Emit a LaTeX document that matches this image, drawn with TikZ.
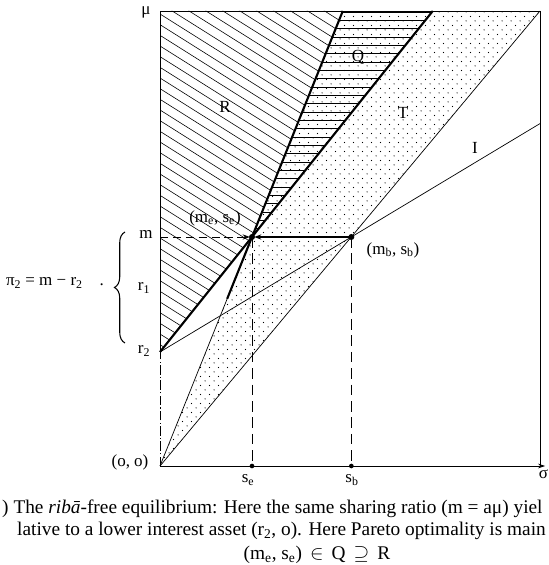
\documentclass[tikz,border=0pt]{standalone}
\usepackage{fontspec}
\setmainfont{Liberation Serif}
\usetikzlibrary{arrows.meta,patterns,decorations.pathreplacing}

\pgfdeclarepatternformonly{scandots}{\pgfpointorigin}{\pgfpoint{8pt}{8pt}}{\pgfpoint{8pt}{8pt}}{%
  \pgfpathcircle{\pgfpoint{1pt}{1pt}}{0.55pt}%
  \pgfpathcircle{\pgfpoint{5pt}{5pt}}{0.55pt}%
  \pgfusepath{fill}}

\begin{document}
\begin{tikzpicture}[
  thinline/.style={line width=0.6pt},
  heavyline/.style={line width=1.8pt},
  hatchline/.style={line width=0.5pt},
  dropline/.style={line width=0.8pt, dash pattern=on 9pt off 5pt},
  lbl/.style={font=\fontsize{14.5}{16}\selectfont, inner sep=1pt},
  captext/.style={font=\fontsize{16.5}{19}\selectfont, inner sep=0pt, anchor=west}
]
\useasboundingbox (-4.800,-2.970) rectangle (11.640,13.980);

\coordinate (O) at (0,0);
\coordinate (mu) at (0,13.650);
\coordinate (corner) at (11.400,13.650);
\coordinate (axisend) at (11.400,0);
\coordinate (xend) at (11.550,0);
\coordinate (r2) at (0,3.420);
\coordinate (m) at (0,6.870);
\coordinate (me) at (2.760,6.870);
\coordinate (mb) at (5.740,6.870);
\coordinate (se) at (2.760,0);
\coordinate (sb) at (5.740,0);
\coordinate (kink) at (2.015,5.015);
\coordinate (topA) at (5.484,13.650);
\coordinate (topB) at (8.183,13.650);
\coordinate (Iend) at (11.400,10.273);

\fill[pattern=scandots] (O) -- (topA) -- (corner) -- cycle;
\begin{scope}
\clip (r2) -- (me) -- (topA) -- (mu) -- cycle;
\foreach \k in {0,...,46}
  \draw[hatchline] (0,{3.000+0.320*\k}) -- ++(12,-7.560);
\end{scope}
\begin{scope}
\clip (me) -- (topA) -- (topB) -- cycle;
\foreach \k in {0,...,28}
  \draw[hatchline] (2.500,{6.870+0.250*\k}) -- (8.500,{6.870+0.250*\k});
\end{scope}

\draw[thinline] (r2) -- (mu) -- (corner) -- (axisend);
\draw[thinline, dash pattern=on 8pt off 2pt on 1pt off 2pt] (O) -- (r2);
\draw[thinline, -{Stealth[length=6pt,width=4pt]}] (O) -- (xend);
\draw[thinline] (O) -- (me);
\draw[thinline] (O) -- (corner);
\draw[thinline] (r2) -- (Iend);
\draw[heavyline] (r2) -- (topB);
\draw[heavyline] (me) -- (topA);
\draw[heavyline] (kink) -- (me);

\draw[thinline, dash pattern=on 7pt off 4pt, -{Stealth[length=6pt,width=4.5pt]}, shorten >=2pt] (m) -- (me);
\draw[line width=1pt, -{Stealth[length=6pt,width=4.5pt]}, shorten >=2pt] (mb) -- (me);
\draw[dropline] (me) -- (se);
\draw[dropline] (mb) -- (sb);

\fill (me) circle (0.090);
\fill (mb) circle (0.090);
\fill (se) circle (0.070);
\fill (sb) circle (0.070);

\draw[line width=0.9pt, decorate, decoration={brace, amplitude=9pt}] (-1.050,3.690) -- (-1.050,7.020);

\node[lbl] (muL) at (-0.420,13.620) {μ};
\node[lbl] (mL) at (-0.420,6.930) {m};
\node[lbl] (r1L) at (-0.480,5.340) {r\textsubscript{1}};
\node[lbl] (r2L) at (-0.480,3.450) {r\textsubscript{2}};
\node[lbl] (piL) at (-3.150,5.490) {π\textsubscript{2} = m − r\textsubscript{2}\quad .};
\node[lbl] (meL) at (1.650,7.440) {(m\textsubscript{e}, s\textsubscript{e})};
\node[lbl] (mbL) at (6.990,6.480) {(m\textsubscript{b}, s\textsubscript{b})};
\node[lbl] (ooL) at (-0.900,0.120) {(o, o)};
\node[lbl] (seL) at (2.640,-0.420) {s\textsubscript{e}};
\node[lbl] (sbL) at (5.760,-0.420) {s\textsubscript{b}};
\node[lbl] (sigL) at (11.500,-0.240) {σ};
\node[lbl] (RL) at (1.950,10.770) {R};
\node[lbl] (QL) at (5.940,12.270) {Q};
\node[lbl] (TL) at (7.290,10.590) {T};
\node[lbl] (IL) at (9.450,9.540) {I};

\node[captext] (cap1) at (-4.740,-1.290) {) The \textit{ribā}-free equilibrium: Here the same sharing ratio (m = aμ) yiel};
\node[captext] (cap2) at (-4.290,-1.950) {lative to a lower interest asset (r\textsubscript{2}, o). Here Pareto optimality is main};
\node[captext, anchor=center] (cap3) at (4.710,-2.660) {(m\textsubscript{e}, s\textsubscript{e})\, $\in$\, Q\, $\supseteq$\, R};
\end{tikzpicture}
\end{document}
